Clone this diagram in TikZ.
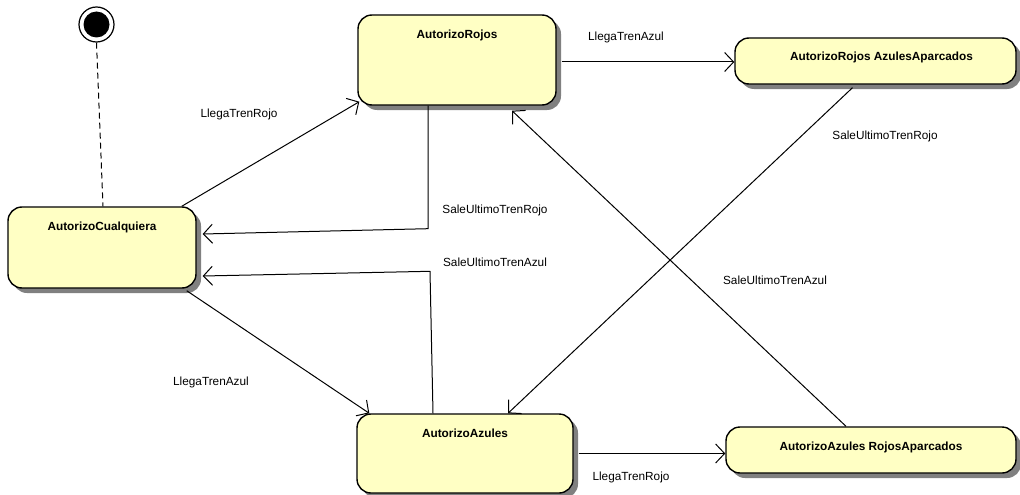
\documentclass[tikz,border=0pt]{standalone}
\usepackage{fontspec}
\setmainfont{Liberation Sans}
\usetikzlibrary{arrows.meta,shadows,calc}
\definecolor{statefill}{RGB}{255,255,196}
\begin{document}
\begin{tikzpicture}[x=1pt,y=-1pt,
	state/.style={draw=black, line width=1.4pt, fill=statefill, rounded corners=14pt, inner sep=0pt,
		drop shadow={shadow xshift=5pt, shadow yshift=-5pt, fill=black!50, opacity=1}},
	title/.style={font=\fontsize{11.8}{13}\selectfont\bfseries},
	event/.style={font=\fontsize{11.8}{13}\selectfont},
	trans/.style={-{Straight Barb[length=9pt,width=19pt]}, line width=1pt}]
	\useasboundingbox (0,0) rectangle (1020,495);
	% states
	\node[circle, draw, line width=1.2pt, minimum size=35pt, inner sep=0pt] (init) at (96.5,24.5) {};
	\node[circle, fill=black, minimum size=26pt, inner sep=0pt] (initDot) at (init) {};
	\node[state, minimum width=188pt, minimum height=81pt] (cual) at (102,247.5) {};
	\node[title] (cualT) at ($(cual.north)+(0,21)$) {AutorizoCualquiera};
	\node[state, minimum width=198pt, minimum height=90pt] (rojos) at (457,60) {};
	\node[title] (rojosT) at ($(rojos.north)+(0,21)$) {AutorizoRojos};
	\node[state, minimum width=281pt, minimum height=46pt] (rojosAz) at (875.5,61) {};
	\node[title] (rojosAzT) at ($(rojosAz.north)+(6,20)$) {AutorizoRojos AzulesAparcados};
	\node[state, minimum width=216pt, minimum height=79pt] (azules) at (465,453.5) {};
	\node[title] (azulesT) at ($(azules.north)+(0,20)$) {AutorizoAzules};
	\node[state, minimum width=290pt, minimum height=46pt] (azulesRo) at (871,450) {};
	\node[title] (azulesRoT) at ($(azulesRo.north)+(0,21)$) {AutorizoAzules RojosAparcados};
	% transitions
	\draw[line width=1pt, dash pattern=on 6pt off 4pt] (init.south) -- ($(cual.north)+(1,0)$);
	\draw[trans] ($(cual.north east)+(-15,0)$) -- ($(rojos.south west)+(2,-4)$);
	\draw[trans] ($(rojos.south)+(-29,0)$) -- ($(rojos.south)+(-29,123)$) -- ($(cual.east)+(6,-13.5)$);
	\draw[trans] ($(azules.north)+(-32,0)$) -- ($(azules.north)+(-35,-142)$) -- ($(cual.east)+(6,28.5)$);
	\draw[trans] ($(cual.south east)+(-10,2)$) -- ($(azules.north west)+(13,0)$);
	\draw[trans] ($(rojos.east)+(5,2)$) -- ($(rojosAz.west)+(0,1)$);
	\draw[trans] ($(rojosAz.south)+(-23,3)$) -- ($(azules.north)+(43,0)$);
	\draw[trans] ($(azulesRo.north)+(-25,0)$) -- ($(rojos.south)+(55,5)$);
	\draw[trans] ($(azules.east)+(5,0)$) -- ($(azulesRo.west)+(0,3.5)$);
	% events
	\node[event] (llegaRojoA) at (239,114) {LlegaTrenRojo};
	\node[event] (saleRojoA) at (495,210) {SaleUltimoTrenRojo};
	\node[event] (saleAzulA) at (495,262) {SaleUltimoTrenAzul};
	\node[event] (llegaAzulA) at (211,382) {LlegaTrenAzul};
	\node[event] (llegaAzulB) at (626,37) {LlegaTrenAzul};
	\node[event] (saleRojoB) at (885,136) {SaleUltimoTrenRojo};
	\node[event] (saleAzulB) at (775,280) {SaleUltimoTrenAzul};
	\node[event] (llegaRojoB) at (631,477) {LlegaTrenRojo};
\end{tikzpicture}
\end{document}
